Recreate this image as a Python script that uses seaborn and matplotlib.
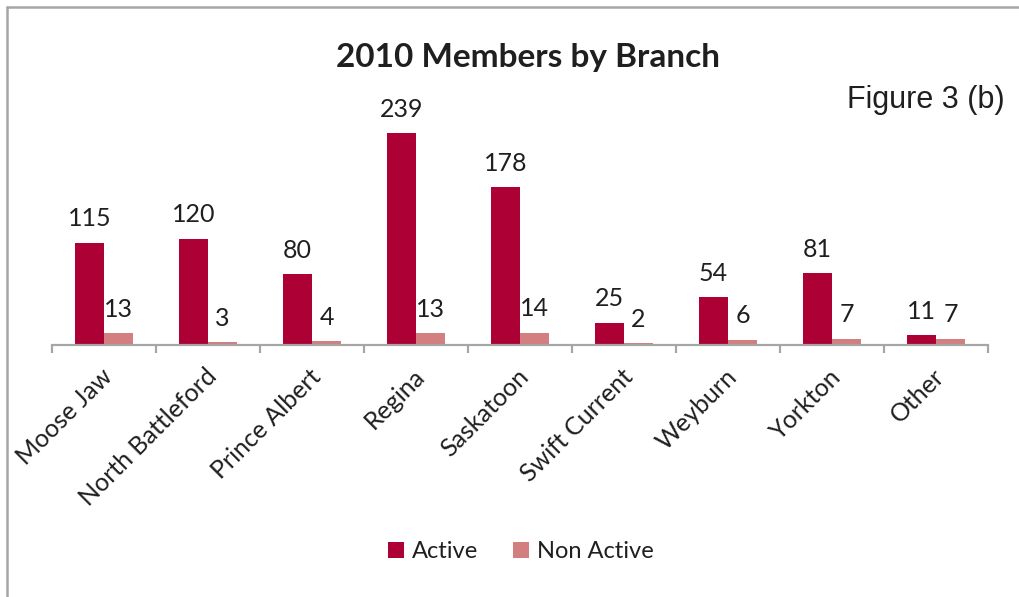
import matplotlib
matplotlib.use("Agg")
import matplotlib.pyplot as plt
import matplotlib.transforms as mtransforms
from matplotlib.lines import Line2D
from matplotlib.patches import Patch
from matplotlib.ticker import FixedLocator
import seaborn as sns
import pandas as pd

# Membership counts per branch, 2010
branches = ["Moose Jaw", "North Battleford", "Prince Albert", "Regina", "Saskatoon",
            "Swift Current", "Weyburn", "Yorkton", "Other"]
active = [115, 120, 80, 239, 178, 25, 54, 81, 11]
non_active = [13, 3, 4, 13, 14, 2, 6, 7, 7]
series = ["Active", "Non Active"]
colors = ["#AD0034", "#D47F7F"]

W, H, DPI = 1020, 597, 100
sns.set_theme(style="white")
plt.rcParams["font.family"] = ["Lato", "DejaVu Sans"]
TEXT = "#1F1F1F"
GRID = "#A6A6A6"

df = pd.DataFrame({
    "Branch": branches * 2,
    "Status": [series[0]] * len(branches) + [series[1]] * len(branches),
    "Members": active + non_active,
})

fig = plt.figure(figsize=(W / DPI, H / DPI), dpi=DPI)
ymax = 250
ax = fig.add_axes([52 / W, 1 - 345 / H, 936 / W, ymax * 0.887 / H])
sns.barplot(data=df, x="Branch", y="Members", hue="Status", order=branches,
            hue_order=series, palette=colors, width=0.56, linewidth=0,
            saturation=1, legend=False, ax=ax)
ax.set_xlim(-0.5, len(branches) - 0.5)
ax.set_ylim(0, ymax)
ax.set_xlabel("")
ax.set_ylabel("")
ax.set_yticks([])
for side in ["left", "right", "top"]:
    ax.spines[side].set_visible(False)
ax.spines["bottom"].set_color(GRID)
ax.spines["bottom"].set_linewidth(1.6)

# value labels on every bar
for cont in ax.containers:
    ax.bar_label(cont, padding=9, fontsize=18, color=TEXT)

# category labels centred, tick marks between categories
ax.xaxis.set_minor_locator(FixedLocator([i - 0.5 for i in range(len(branches) + 1)]))
ax.tick_params(axis="x", which="minor", length=6, width=1.6, color=GRID, direction="out", bottom=True)
ax.tick_params(axis="x", which="major", length=0, pad=20)
ax.set_xticks(range(len(branches)))
ax.set_xticklabels(branches, rotation=45, ha="right", va="center",
                   rotation_mode="anchor", fontsize=18, color=TEXT)
shift = mtransforms.ScaledTranslation(5 / DPI, 0, fig.dpi_scale_trans)
for lbl in ax.get_xticklabels():
    lbl.set_transform(lbl.get_transform() + shift)

fig.text(528 / W, 1 - 57 / H, "2010 Members by Branch", ha="center", va="center",
         fontsize=24, fontweight="bold", color=TEXT)
fig.text(1005 / W, 1 - 100 / H, "Figure 3 (b)", ha="right", va="center",
         fontsize=22, family="Liberation Sans", color=TEXT)

handles = [Patch(facecolor=c, edgecolor="none", label=s) for c, s in zip(colors, series)]
fig.legend(handles=handles, loc="center", bbox_to_anchor=(521 / W, 1 - 552 / H),
           ncol=2, frameon=False, fontsize=17, handlelength=0.65, handleheight=0.65,
           handletextpad=0.35, columnspacing=1.5, labelcolor=TEXT)

# chart frame: left and top edges
fig.add_artist(Line2D([7 / W, 7 / W], [0, 1 - 7 / H], color=GRID, lw=1.8, transform=fig.transFigure))
fig.add_artist(Line2D([7 / W, 1], [1 - 7 / H, 1 - 7 / H], color=GRID, lw=1.8, transform=fig.transFigure))

fig.savefig("out.png", dpi=DPI)
